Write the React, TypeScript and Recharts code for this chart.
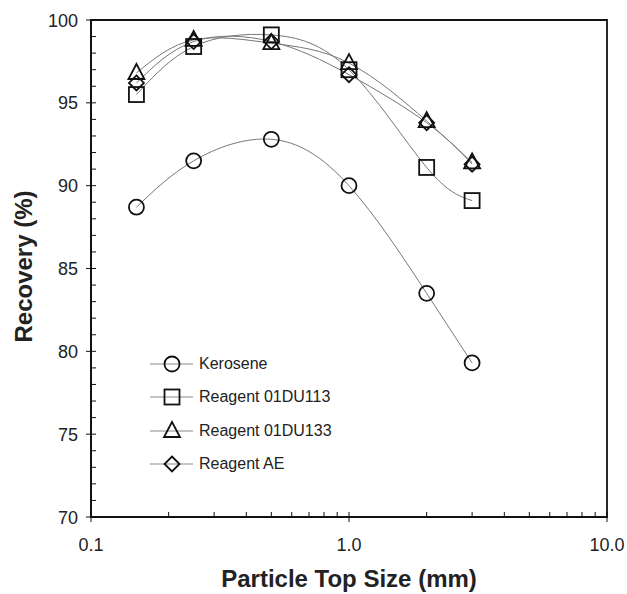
import React from 'react';
import { LineChart, Line, XAxis, YAxis, ReferenceArea, Legend, Label } from 'recharts';

const SIZES = [0.15, 0.25, 0.5, 1.0, 2.0, 3.0];
const KEROSENE = [88.7, 91.5, 92.8, 90.0, 83.5, 79.3];
const DU113 = [95.5, 98.4, 99.1, 97.0, 91.1, 89.1];
const DU133 = [96.8, 98.8, 98.6, 97.4, 93.9, 91.4];
const AE = [96.2, 98.7, 98.7, 96.7, 93.8, 91.3];

const X_MAJOR = [0.1, 1, 10];
const X_TICKS = [0.1, 0.2, 0.3, 0.4, 0.5, 0.6, 0.7, 0.8, 0.9, 1, 2, 3, 4, 5, 6, 7, 8, 9, 10];
const Y_TICKS = [70, 71, 72, 73, 74, 75, 76, 77, 78, 79, 80, 81, 82, 83, 84, 85, 86, 87, 88, 89, 90, 91, 92, 93, 94, 95, 96, 97, 98, 99, 100];

const SERIES = [
  { key: 'kerosene', name: 'Kerosene', values: KEROSENE, shape: 'circle' },
  { key: 'du113', name: 'Reagent 01DU113', values: DU113, shape: 'square' },
  { key: 'du133', name: 'Reagent 01DU133', values: DU133, shape: 'triangle' },
  { key: 'ae', name: 'Reagent AE', values: AE, shape: 'diamond' },
];

const data = SIZES.map((size, i) => {
  const row: any = { size };
  SERIES.forEach((s) => {
    row[s.key] = s.values[i];
  });
  return row;
});

const FONT = 'Arial, "Liberation Sans", sans-serif';

const Marker = ({ shape, cx, cy }: { shape: string; cx: number; cy: number }) => {
  const common = { fill: 'none', stroke: '#111', strokeWidth: 1.8 };
  if (shape === 'circle') return <circle cx={cx} cy={cy} r={7.5} {...common} />;
  if (shape === 'square') return <rect x={cx - 7.5} y={cy - 7.5} width={15} height={15} {...common} />;
  if (shape === 'triangle')
    return <polygon points={`${cx},${cy - 9} ${cx - 8},${cy + 6} ${cx + 8},${cy + 6}`} {...common} />;
  return <polygon points={`${cx},${cy - 7.5} ${cx + 7.5},${cy} ${cx},${cy + 7.5} ${cx - 7.5},${cy}`} {...common} />;
};

const XTick = ({ x, y, payload }: any) => {
  const major = X_MAJOR.includes(payload.value);
  const label = payload.value === 0.1 ? '0.1' : payload.value.toFixed(1);
  return (
    <g>
      <line x1={x} x2={x} y1={major ? y + 5 : y} y2={y - 5} stroke="#111" strokeWidth={1} />
      {major && (
        <text x={x} y={y + 34} textAnchor="middle" fontSize={18} fontFamily={FONT} fill="#222">
          {label}
        </text>
      )}
    </g>
  );
};

const YTick = ({ x, y, payload }: any) => {
  const major = payload.value % 5 === 0;
  return (
    <g>
      <line x1={major ? x - 5 : x} x2={x + 5} y1={y} y2={y} stroke="#111" strokeWidth={1} />
      {major && (
        <text x={x - 13} y={y + 6.5} textAnchor="end" fontSize={18} fontFamily={FONT} fill="#222">
          {payload.value}
        </text>
      )}
    </g>
  );
};

const LegendBox = () => (
  <div style={{ fontFamily: FONT, fontSize: 16, color: '#222' }}>
    {SERIES.map((s) => (
      <div key={s.key} style={{ display: 'flex', alignItems: 'center', height: 33.5 }}>
        <svg width={48} height={24} style={{ display: 'block' }}>
          <line x1={2} x2={45} y1={12} y2={12} stroke="#888" strokeWidth={1} />
          <Marker shape={s.shape} cx={24} cy={12} />
        </svg>
        <span style={{ marginLeft: 3 }}>{s.name}</span>
      </div>
    ))}
  </div>
);

export default function App() {
  return (
    <div style={{ position: 'absolute', left: 0, top: 0, background: '#fff' }}>
      <LineChart width={627} height={594} data={data} margin={{ top: 20, right: 20, left: 0, bottom: 0 }}>
        <ReferenceArea
          x1={0.1}
          x2={10}
          y1={70}
          y2={100}
          fill="none"
          stroke="#111"
          strokeWidth={1.8}
          ifOverflow="visible"
        />
        <XAxis
          dataKey="size"
          type="number"
          scale="log"
          domain={[0.1, 10]}
          ticks={X_TICKS}
          interval={0}
          height={77}
          tickSize={0}
          tickMargin={0}
          tickLine={false}
          axisLine={{ stroke: '#111', strokeWidth: 1.8 }}
          tick={<XTick />}
          allowDataOverflow
        >
          <Label
            content={({ viewBox }: any) => (
              <text
                x={viewBox.x + viewBox.width / 2}
                y={viewBox.y + 70}
                textAnchor="middle"
                fontSize={24}
                fontWeight="bold"
                fontFamily={FONT}
                fill="#222"
              >
                Particle Top Size (mm)
              </text>
            )}
          />
        </XAxis>
        <YAxis
          type="number"
          domain={[70, 100]}
          ticks={Y_TICKS}
          interval={0}
          width={91}
          tickSize={0}
          tickMargin={0}
          tickLine={false}
          axisLine={{ stroke: '#111', strokeWidth: 1.8 }}
          tick={<YTick />}
          allowDataOverflow
        >
          <Label
            content={({ viewBox }: any) => {
              const cx = viewBox.x + 32;
              const cy = viewBox.y + viewBox.height / 2 - 2;
              return (
                <text
                  x={cx}
                  y={cy}
                  transform={`rotate(-90 ${cx} ${cy})`}
                  textAnchor="middle"
                  fontSize={24}
                  fontWeight="bold"
                  fontFamily={FONT}
                  fill="#222"
                >
                  Recovery (%)
                </text>
              );
            }}
          />
        </YAxis>
        {SERIES.map((s) => (
          <Line
            key={s.key}
            dataKey={s.key}
            name={s.name}
            type="natural"
            stroke="#777"
            strokeWidth={1}
            isAnimationActive={false}
            dot={(p: any) => <Marker key={`${s.key}-${p.index}`} shape={s.shape} cx={p.cx} cy={p.cy} />}
            activeDot={false}
          />
        ))}
        <Legend
          layout="vertical"
          align="center"
          verticalAlign="middle"
          content={<LegendBox />}
          wrapperStyle={{ left: 148, top: 347, width: 220, height: 140 }}
        />
      </LineChart>
    </div>
  );
}
